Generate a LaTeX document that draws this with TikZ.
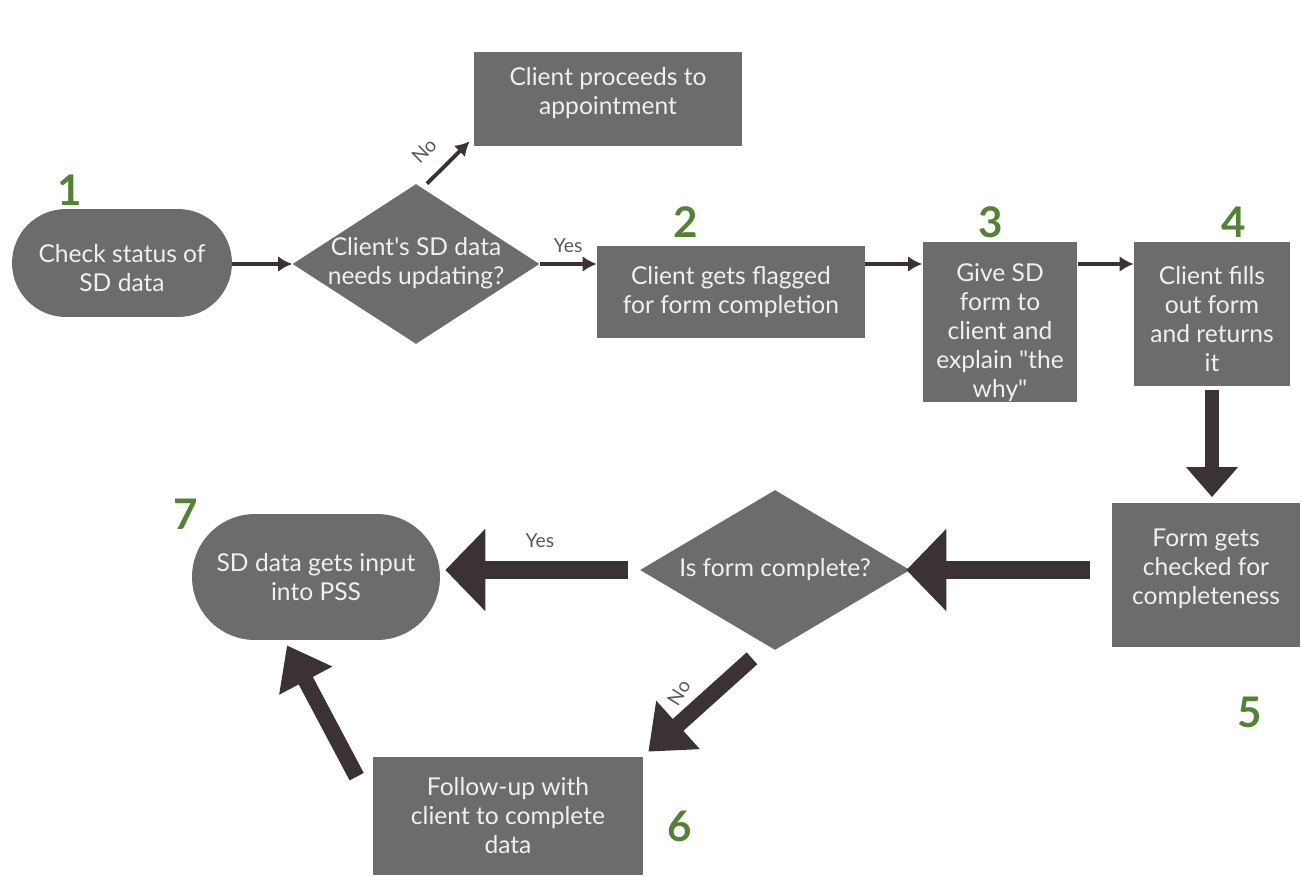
\documentclass[tikz,border=0pt]{standalone}
\usepackage{fontspec}
\setmainfont{Lato}[Ligatures=TeXOff]
\usetikzlibrary{shapes.geometric, arrows.meta}
\definecolor{boxgray}{RGB}{108,108,108}
\definecolor{stepgreen}{RGB}{84,130,53}
\definecolor{arrowdark}{RGB}{58,50,52}
\tikzset{
	box/.style={fill=boxgray, text=white!94!black, align=center, inner sep=0pt, font=\fontsize{14}{16.5}\selectfont},
	decision/.style={box, diamond},
	num/.style={text=stepgreen, font=\fontsize{24}{24}\selectfont\bfseries},
	thinarrow/.style={-{Latex[length=8pt,width=9pt]}, line width=2.2pt, draw=arrowdark},
	thickarrow/.style={-{Triangle[length=0.8cm,width=1.6cm]}, line width=0.36cm, draw=arrowdark},
	answer/.style={text=black!65, font=\fontsize{11}{11}\selectfont},
}
\begin{document}
\begin{tikzpicture}[x=0.02cm, y=-0.02cm]
\useasboundingbox (0, 0) rectangle (1302, 876);

%top row
\node[box, rounded corners=1.08cm, minimum width=4.4cm, minimum height=2.16cm] (check) at (122, 263) {Check status of\\SD data\\[-22pt]};
\node[decision, minimum width=4.94cm, minimum height=3.2cm] (updating) at (416, 264)
	{\makebox[0pt]{\begin{tabular}{@{}c@{}}Client's SD data\\needs updating?\end{tabular}}};
\node[box, minimum width=5.36cm, minimum height=1.88cm] (appointment) at (608, 99) {Client proceeds to\\appointment\\[-7.5pt]};
\node[box, minimum width=5.36cm, minimum height=1.86cm] (flagged) at (731, 292) {Client gets flagged\\for form completion};
\node[box, minimum width=3.1cm, minimum height=3.22cm] (giveform) at (1000, 322) {Give SD\\form to\\client and\\explain "the\\why"\\[-26pt]};
\node[box, minimum width=3.12cm, minimum height=2.9cm] (fillsout) at (1212, 314) {Client fills\\out form\\and returns\\it\\[-22pt]};

%bottom row
\node[box, minimum width=3.76cm, minimum height=2.9cm] (checked) at (1206, 575) {Form gets\\checked for\\completeness\\[-7.5pt]};
\node[decision, minimum width=5.4cm, minimum height=3.2cm] (complete) at (775, 570)
	{\makebox[0pt]{Is form complete?}};
\node[box, rounded corners=1.26cm, minimum width=4.96cm, minimum height=2.52cm] (input) at (316, 577) {SD data gets input\\into PSS};
\node[box, minimum width=5.4cm, minimum height=2.36cm] (followup) at (508, 816) {Follow-up with\\client to complete\\data};

%step numbers
\node[num] (n1) at (70, 190) {1};
\node[num] (n2) at (686, 222) {2};
\node[num] (n3) at (991, 222) {3};
\node[num] (n4) at (1234, 222) {4};
\node[num] (n5) at (1250, 712) {5};
\node[num] (n6) at (680, 826) {6};
\node[num] (n7) at (186, 514) {7};

\draw[thinarrow] (check.east |- updating.east) -- (updating.west);
\draw[thinarrow] ([xshift=0.22cm]updating.north) -- ([xshift=-0.08cm, yshift=0.1cm]appointment.south west)
	node[answer, pos=0.35, above=6pt, sloped] {No};
\draw[thinarrow] (updating.east) -- (flagged.west |- updating.east)
	node[answer, midway, above, yshift=2pt] {Yes};
\draw[thinarrow] (flagged.east |- updating.east) -- (giveform.west |- updating.east);
\draw[thinarrow] (giveform.east |- updating.east) -- (fillsout.west |- updating.east);

\draw[thickarrow, -{Triangle[length=0.6cm,width=1.0cm]}, line width=0.28cm, shorten <=0.06cm, shorten >=0.1cm]
	(fillsout.south) -- (fillsout.south |- checked.north);
\draw[thickarrow, shorten <=0.44cm, shorten >=-0.08cm] (checked.west |- complete.east) -- (complete.east);
\draw[thickarrow, shorten <=0.24cm, shorten >=0.1cm] (complete.west) -- (input.east |- complete.west)
	node[answer, midway, above, yshift=4pt] {Yes};
\draw[thickarrow, line width=0.32cm, -{Triangle[length=0.8cm,width=1.25cm]}]
	([xshift=-0.46cm, yshift=-0.16cm]complete.south) -- ([xshift=0.1cm, yshift=0.1cm]followup.north east)
	node[answer, pos=0.35, xshift=-21pt, yshift=-1pt, rotate=58] {No};
\draw[thickarrow, line width=0.32cm, -{Triangle[length=0.8cm,width=1.15cm]}]
	([xshift=-0.32cm, yshift=-0.4cm]followup.north west) -- ([xshift=-0.58cm, yshift=-0.1cm]input.south);

\end{tikzpicture}
\end{document}
